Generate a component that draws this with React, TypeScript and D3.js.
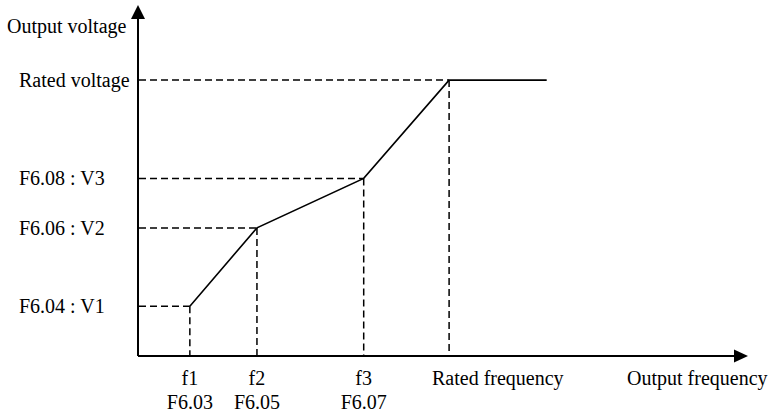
import React from "react";
import * as d3 from "d3";

const freqs = [8.5, 19.5, 37, 51, 67]; // f1, f2, f3, rated, end
const volts = [14.2, 36.5, 50.6, 78.6, 78.6];
const vLabels = ["F6.04 : V1", "F6.06 : V2", "F6.08 : V3", "Rated voltage"];
const fLabels = ["f1", "f2", "f3"];
const fCodes = ["F6.03", "F6.05", "F6.07"];

const W = 773, H = 415;
const FONT = "'Liberation Serif', 'Times New Roman', serif";

export default function App() {
  const x = d3.scaleLinear().domain([0, 100]).range([138, 748]);
  const y = d3.scaleLinear().domain([0, 100]).range([356, 5]);
  const pts: [number, number][] = freqs.map((f, i) => [x(f), y(volts[i])]);
  const line = d3.line<[number, number]>().x(d => d[0]).y(d => d[1]);
  const x0 = x(0), y0 = y(0);
  const dash = "7,4";
  return (
    <svg width={W} height={H} style={{ position: "absolute", left: 0, top: 0, background: "#fff" }}>
      {pts.slice(0, 4).map((p, i) => (
        <g key={i} stroke="#000" strokeWidth={1.5} strokeDasharray={dash} fill="none">
          <line x1={x0 + 1} y1={p[1]} x2={p[0]} y2={p[1]} />
          <line x1={p[0]} y1={p[1]} x2={p[0]} y2={y0} />
        </g>
      ))}
      <path d={line(pts) || ""} stroke="#000" strokeWidth={1.6} fill="none" />
      <line x1={x0} y1={y0} x2={x(100) - 12} y2={y0} stroke="#000" strokeWidth={2} />
      <line x1={x0} y1={y0} x2={x0} y2={y(100) + 12} stroke="#000" strokeWidth={2} />
      <path d={`M${x(100)},${y0} L${x(100) - 14},${y0 - 6.5} L${x(100) - 14},${y0 + 6.5} Z`} fill="#000" />
      <path d={`M${x0},${y(100)} L${x0 - 7},${y(100) + 14} L${x0 + 7},${y(100) + 14} Z`} fill="#000" />
      <g fontFamily={FONT} fontSize={20} fill="#000">
        <text x={7} y={33}>Output voltage</text>
        {vLabels.map((t, i) => (
          <text key={t} x={19} y={pts[i][1] + 7}>{t}</text>
        ))}
        {fLabels.map((t, i) => (
          <text key={t} x={pts[i][0]} y={385} textAnchor="middle">{t}</text>
        ))}
        {fCodes.map((t, i) => (
          <text key={t} x={pts[i][0]} y={409} textAnchor="middle">{t}</text>
        ))}
        <text x={432} y={385}>Rated frequency</text>
        <text x={627} y={385}>Output frequency</text>
      </g>
    </svg>
  );
}
